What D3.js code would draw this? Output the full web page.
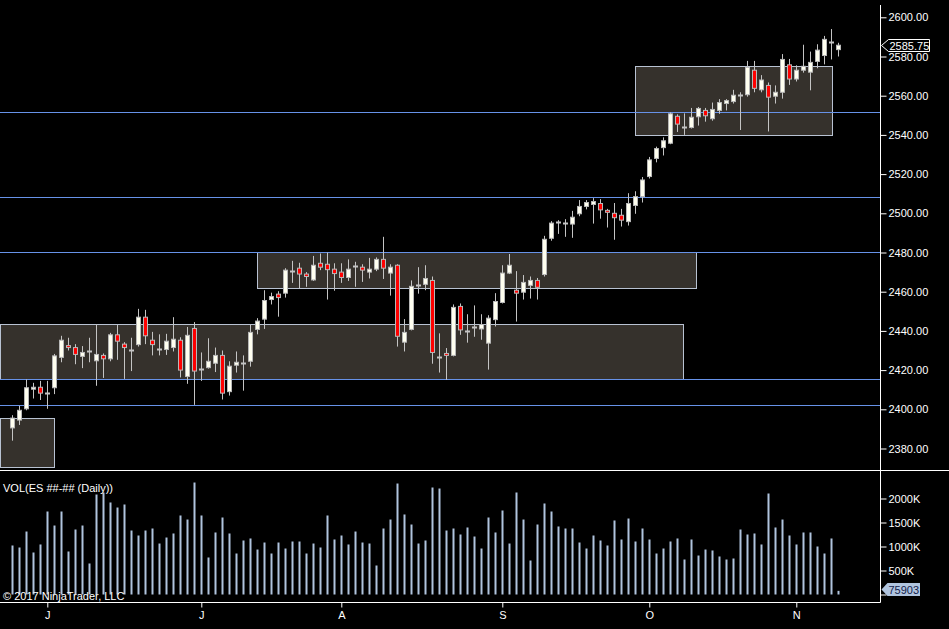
<!DOCTYPE html>
<html>
<head>
<meta charset="utf-8">
<script src="https://cdn.jsdelivr.net/npm/d3@7"></script>
<style>
  body { margin: 0; background: #000; overflow: hidden; }
  text { font-family: "Liberation Sans", Arial, sans-serif; font-size: 11px; fill: #fff; }
</style>
</head>
<body>
<svg id="chart" width="949" height="629"></svg>
<script>
// daily bars, one per session
var opens = [2390.5,2394.5,2400.25,2410.25,2411.25,2408.5,2411,2426.5,2432.5,2431.5,
  2427,2429.5,2424.75,2427.5,2425.75,2438,2433.25,2430.5,2433,2447,
  2435.25,2431,2430.5,2431.5,2435.25,2416.75,2441.25,2420.5,2421.25,2423.5,
  2427.5,2409,2422.5,2423.5,2424.5,2440.75,2446,2456,2458.75,2459.25,
  2470.5,2472,2469,2466,2474.5,2474,2471.5,2470,2467.25,2473.25,
  2472.5,2470,2471.5,2476.5,2469.5,2473.5,2434.25,2440.75,2463.5,2463.75,
  2465.75,2426.5,2428.5,2427.5,2452.5,2440,2442,2441,2433.75,2445.75,
  2454.5,2469.5,2460.75,2459.75,2463.25,2465.75,2468.75,2487.25,2495.5,2495,
  2494.5,2499.75,2503.5,2504.5,2505,2501.5,2500,2499,2495.75,2504,
  2508.5,2518.75,2528,2533.5,2535.75,2549.5,2544.25,2543.75,2549.25,2552.5,
  2548.25,2552.5,2556,2557,2560.5,2560.5,2573,2563,2565.25,2559.75,
  2561.75,2575.75,2568.5,2573,2572,2577.5,2580.5,2587.5,2583.5];
var highs = [2397,2401.75,2415.25,2413.5,2414.5,2414.5,2428.25,2437.5,2436.5,2433.25,
  2432.25,2436.5,2443.5,2428.5,2439,2443,2434.25,2436.5,2451.25,2450.75,
  2439.5,2438.25,2438.5,2447,2436.75,2442,2444.5,2429,2436.25,2431.5,
  2430,2424.5,2429.5,2427.5,2443.25,2446.5,2460.75,2459.5,2460.25,2472,
  2475.75,2474.75,2470,2478.25,2479.5,2480,2474.5,2474.5,2476.5,2475.25,
  2474,2477.25,2477.5,2488,2474,2474,2446,2465.75,2472.5,2473.5,
  2467.75,2438.75,2431.25,2453.5,2454,2448.5,2453,2448.5,2448,2459.25,
  2473.5,2479.25,2470.5,2468.5,2467.75,2467,2488.5,2496,2496.5,2497,
  2501.25,2506.75,2506.75,2507.75,2507.25,2502.25,2505.25,2502.25,2510.25,2511.25,
  2518.5,2528.75,2534,2538.75,2551.5,2550.5,2551,2553.75,2554.25,2553.75,
  2556.5,2558.25,2558.25,2563,2561.75,2577.75,2577.75,2570.5,2566.75,2565.25,
  2581.25,2578.75,2575.5,2586,2582.5,2586.25,2590.5,2594,2587];
var lows = [2384,2392,2399.5,2405.5,2404.75,2400.25,2407.75,2424,2430,2423,
  2421,2424,2412,2416,2424.5,2425.25,2415.5,2419.5,2432,2433.25,
  2427.5,2427.5,2427.75,2429.5,2416.25,2413,2402.25,2414.5,2420.75,2419,
  2405,2407,2418.75,2409.5,2421.75,2438.25,2441,2453.5,2447.25,2457,
  2464.5,2461.75,2462.5,2465.5,2471,2456,2460.5,2464.5,2465.5,2462.5,
  2465,2466.75,2470.5,2466.5,2458,2432,2429.5,2440.25,2459,2460.75,
  2423.25,2418.75,2415,2427,2438,2434,2437,2435.5,2420.25,2442.25,
  2454,2469,2444.75,2456,2456.5,2456,2467.75,2486,2489.5,2488,
  2487.5,2498.5,2502,2494.75,2497.25,2492.75,2486.5,2493.25,2493.75,2499.75,
  2505.5,2517.75,2526,2529.5,2535.25,2541.5,2540,2543.25,2544.75,2546.75,
  2547.25,2550.75,2552.5,2556,2542.5,2559.5,2561.75,2561.75,2541.75,2556,
  2558.5,2565.5,2567.25,2571.75,2562.75,2574,2576,2578.5,2580];
var closes = [2395.5,2399.5,2411,2411.25,2408.25,2408.5,2427.25,2435.25,2431.5,2428,
  2429,2429.5,2428,2425.75,2438,2434.75,2431.5,2430.5,2447,2437.5,
  2433,2431,2434.75,2435.75,2420,2437.75,2419.5,2420.5,2424.5,2427.5,
  2408.25,2422,2424,2423.5,2439.25,2445,2455.5,2457.5,2457,2471,
  2470.5,2469,2467.75,2473.5,2472.5,2471.25,2469.25,2467.25,2471.5,2473.25,
  2471,2471.5,2476.5,2472,2472.5,2437.25,2439.25,2462.75,2463.5,2466.75,
  2429,2426.5,2427.5,2452,2440.5,2440,2442,2443.25,2446.5,2455,
  2469.5,2473.5,2459.25,2464.75,2465.75,2462.25,2486.75,2495,2495.5,2495,
  2498,2503.5,2505.5,2506,2501.75,2500.5,2497.75,2496.5,2505,2508.5,
  2517,2527.25,2533,2537,2550.75,2545.5,2544.25,2549,2553.5,2549.75,
  2553,2556.5,2557.5,2560.25,2560.5,2574.5,2563.75,2568,2559.25,2561.75,
  2578.5,2568.5,2573,2575,2577,2583.25,2588.75,2587.5,2585.75];
var volumes = [1021,979,1312,875,1042,1729,1437,1729,896,1354,
  1437,646,2083,2125,1917,1812,1875,1333,1229,1333,
  1375,1062,1187,1271,1646,1562,2333,1646,771,1292,
  1604,1271,854,1125,1167,937,1083,854,1083,958,
  1104,1104,854,1062,979,1646,1146,1229,1042,1312,
  1083,1062,604,1375,1562,2312,1667,1458,1062,1125,
  2229,2208,1333,1375,1250,1396,1208,958,1604,1292,
  1750,1062,2125,1562,708,1458,1896,1729,1417,1375,
  1375,1083,958,1229,1125,1021,1542,1146,1583,1104,
  1375,1146,854,958,1104,1167,729,1146,812,937,
  917,792,729,750,1354,1250,1271,1042,2104,1396,
  1562,1229,1042,1292,1292,1000,854,1167,75.903].map(v => v * 1000);

var monthIdx = [5, 27, 47, 70, 91, 112];
var monthLabels = ["J", "J", "A", "S", "O", "N"];
var priceTicks = d3.range(2380, 2601, 20);
var volTicks = [0, 500000, 1000000, 1500000, 2000000];

// drawn levels and rectangles (bar index / price)
var levels = [2551.5, 2508.25, 2480.5, 2415.5, 2402];
var zoneFrom = [-1.7, -1.7, 35, 89];
var zoneTo = [6, 95.8, 97.7, 117.2];
var zoneTop = [2395.75, 2443.5, 2480.25, 2575];
var zoneBottom = [2371, 2415.5, 2461.75, 2539.75];
var lastPrice = 2585.75, lastVolume = 75903;

var svg = d3.select("#chart");
var axisX = 880.5;
var font = '"Liberation Sans", Arial, sans-serif';

var x = d3.scaleLinear().domain([0, 118]).range([12.3, 838.3]);
var y = d3.scaleLinear().domain([2380, 2600]).range([448.5, 17.3]);
var yv = d3.scaleLinear().domain([0, 2000000]).range([594.5, 498.5]);

svg.append("defs").append("clipPath").attr("id", "pclip")
  .append("rect").attr("x", 0).attr("y", 0).attr("width", axisX).attr("height", 469.5);

var price = svg.append("g").attr("clip-path", "url(#pclip)");

// zones
price.append("g").selectAll("rect").data(d3.range(zoneFrom.length)).enter().append("rect")
  .attr("x", k => Math.round(x(zoneFrom[k])) + 0.5)
  .attr("y", k => Math.round(y(zoneTop[k])) + 0.5)
  .attr("width", k => Math.round(x(zoneTo[k]) - x(zoneFrom[k])))
  .attr("height", k => Math.round(y(zoneBottom[k]) - y(zoneTop[k])))
  .attr("fill", "#35312c").attr("stroke", "#b8c2d2");

// levels
price.append("g").selectAll("line").data(levels).enter().append("line")
  .attr("x1", 0).attr("x2", axisX)
  .attr("y1", d => Math.round(y(d)) + 0.5).attr("y2", d => Math.round(y(d)) + 0.5)
  .attr("stroke", "#6792e8");

// candles: data is the bar index
var bars = price.append("g").selectAll("g").data(d3.range(opens.length)).enter().append("g")
  .attr("transform", k => "translate(" + Math.round(x(k)) + ",0)");

bars.append("line")
  .attr("x1", 0.5).attr("x2", 0.5)
  .attr("y1", k => y(highs[k])).attr("y2", k => y(lows[k]))
  .attr("stroke", "#c4c4c4");

bars.filter(k => opens[k] !== closes[k]).append("rect")
  .attr("x", -1.5).attr("width", 4)
  .attr("y", k => y(Math.max(opens[k], closes[k])))
  .attr("height", k => Math.max(1, Math.abs(y(opens[k]) - y(closes[k]))))
  .attr("fill", k => closes[k] > opens[k] ? "#fffff0" : "#ff0000")
  .attr("stroke", "#b8b8b8");

bars.filter(k => opens[k] === closes[k]).append("line")
  .attr("x1", -2).attr("x2", 3)
  .attr("y1", k => Math.round(y(opens[k])) + 0.5)
  .attr("y2", k => Math.round(y(opens[k])) + 0.5)
  .attr("stroke", "#c4c4c4").attr("stroke-width", 2);

// volume
svg.append("g").selectAll("rect").data(volumes).enter().append("rect")
  .attr("x", (d, i) => Math.round(x(i)) - 0.5)
  .attr("width", 2)
  .attr("y", d => yv(d))
  .attr("height", d => yv(0) - yv(d))
  .attr("fill", "#b0c4de");

// frame lines
svg.append("line").attr("x1", 0).attr("x2", 949).attr("y1", 470.5).attr("y2", 470.5)
  .attr("stroke", "#fff");
svg.append("line").attr("x1", axisX).attr("x2", axisX).attr("y1", 5).attr("y2", 602.5)
  .attr("stroke", "#fff");

function styleAxis(g) {
  g.selectAll(".tick line").attr("stroke", "#fff");
  g.selectAll("text").attr("fill", "#fff").style("font-size", "11px").style("font-family", font);
}

// price axis
var pAxis = svg.append("g").attr("transform", "translate(" + axisX + ",0)")
  .call(d3.axisRight(y).tickValues(priceTicks).tickSize(6).tickPadding(2)
    .tickFormat(d3.format(".2f")));
pAxis.select(".domain").remove();
styleAxis(pAxis);

// volume axis (the zero label sits under the last-volume marker)
var vAxis = svg.append("g").attr("transform", "translate(" + axisX + ",0)")
  .call(d3.axisRight(yv).tickValues(volTicks).tickSize(6).tickPadding(2)
    .tickFormat(d => d === 0 ? "" : (d / 1000) + "K"));
vAxis.select(".domain").remove();
styleAxis(vAxis);

// time axis
var tAxis = svg.append("g").attr("transform", "translate(0,602.5)")
  .call(d3.axisBottom(x).tickValues(monthIdx).tickSize(5).tickPadding(4)
    .tickFormat((d, i) => monthLabels[i]));
tAxis.select(".domain").attr("d", "M0,0H" + axisX).attr("stroke", "#fff");
styleAxis(tAxis);

// last price marker
var lp = Math.round(y(lastPrice)) + 0.5;
svg.append("path")
  .attr("d", "M" + (axisX + 1) + "," + lp + "L" + (axisX + 8) + "," + (lp - 6) +
    "H929.5V" + (lp + 6) + "H" + (axisX + 8) + "Z")
  .attr("fill", "#000").attr("stroke", "#fff");
svg.append("text").attr("x", axisX + 9).attr("y", lp + 4).text(d3.format(".2f")(lastPrice));

// last volume marker
var lv = Math.round(yv(lastVolume)) - 1.5;
svg.append("path")
  .attr("d", "M" + (axisX + 1) + "," + lv + "L" + (axisX + 7) + "," + (lv - 6.5) +
    "H920V" + (lv + 6.5) + "H" + (axisX + 7) + "Z")
  .attr("fill", "#b0c4de");
svg.append("text").attr("x", axisX + 8).attr("y", lv + 4)
  .style("fill", "#10204a").text(lastVolume);

// labels
svg.append("text").attr("x", 3).attr("y", 492).text("VOL(ES ##-## (Daily))");
svg.append("text").attr("x", 3).attr("y", 600).text("\u00a9 2017 NinjaTrader, LLC");
</script>
</body>
</html>
